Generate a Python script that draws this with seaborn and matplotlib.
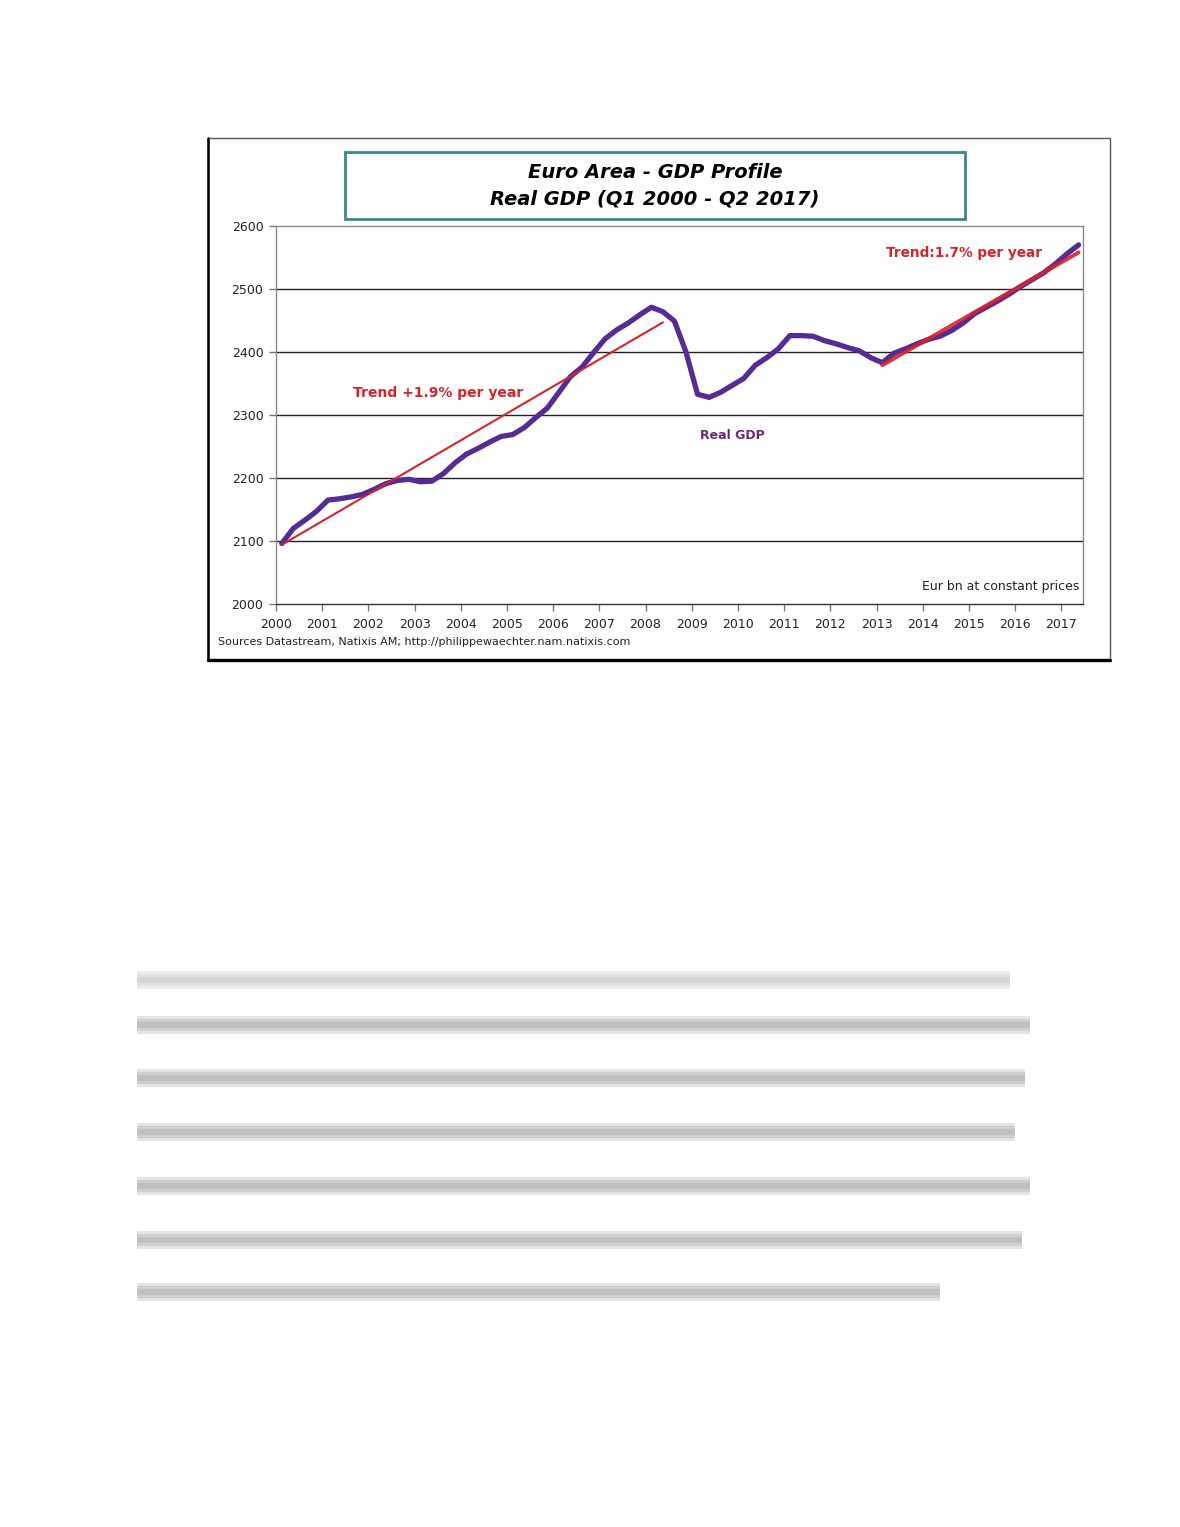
"""
Euro Area - GDP profile, real GDP Q1 2000 - Q2 2017, with two trend lines.
"""

import numpy as np
import pandas as pd
import seaborn as sns
import matplotlib.pyplot as plt
from matplotlib.patches import Rectangle

# quarterly real GDP, Eur bn at constant prices
quarters = pd.period_range("2000Q1", "2017Q2", freq="Q")
gdp = [
    2096, 2120, 2133, 2147,   # 2000
    2165, 2167, 2170, 2174,   # 2001
    2182, 2191, 2196, 2198,   # 2002
    2194, 2195, 2207, 2224,   # 2003
    2238, 2247, 2257, 2266,   # 2004
    2269, 2280, 2296, 2311,   # 2005
    2336, 2361, 2376, 2399,   # 2006
    2421, 2435, 2446, 2459,   # 2007
    2471, 2464, 2449, 2400,   # 2008
    2333, 2328, 2336, 2347,   # 2009
    2358, 2379, 2391, 2405,   # 2010
    2426, 2426, 2425, 2418,   # 2011
    2413, 2407, 2402, 2391,   # 2012
    2383, 2398, 2405, 2413,   # 2013
    2420, 2425, 2434, 2446,   # 2014
    2461, 2471, 2481, 2492,   # 2015
    2504, 2515, 2526, 2540,   # 2016
    2556, 2570,               # 2017
]

# trend lines: end points (decimal year, value)
trend1_x = [2000.125, 2008.375]
trend1_y = [2094, 2447]
trend2_x = [2013.125, 2017.375]
trend2_y = [2379, 2558]

year_ticks = list(range(2000, 2018))
value_ticks = [2000, 2100, 2200, 2300, 2400, 2500, 2600]

PURPLE = "#552b96"
RED = "#d8232a"


def main():
    sns.set_style("white")
    plt.rcParams["font.family"] = ["DejaVu Sans"]

    df = pd.DataFrame({
        "t": [q.year + (q.quarter - 0.5) / 4 for q in quarters],
        "gdp": gdp,
    })

    fig = plt.figure(figsize=(11.8, 15.27), dpi=100)
    ax = fig.add_axes([276 / 1180, 1 - 604 / 1527, 807 / 1180, 378 / 1527])

    # outer chart frame
    W, H = 1180, 1527
    fig.add_artist(Rectangle((208 / W, 1 - 660 / H), 902 / W, 522 / H,
                             transform=fig.transFigure, fill=False,
                             edgecolor="#555555", lw=1))
    fig.add_artist(plt.Line2D([208 / W, 208 / W], [1 - 660 / H, 1 - 138 / H],
                              color="black", lw=1.8))
    fig.add_artist(plt.Line2D([208 / W, 1110 / W], [1 - 660 / H, 1 - 660 / H],
                              color="black", lw=2.4))

    # title box
    fig.add_artist(Rectangle((345 / W, 1 - 219 / H), 620 / W, 67 / H,
                             transform=fig.transFigure, fill=False,
                             edgecolor="#3a8a86", lw=2))
    fig.text(655 / W, 1 - 172 / H, "Euro Area - GDP Profile", ha="center",
             va="center", fontsize=14, fontweight="bold", style="italic",
             color="black")
    fig.text(655 / W, 1 - 199 / H, "Real GDP (Q1 2000 - Q2 2017)", ha="center",
             va="center", fontsize=14, fontweight="bold", style="italic",
             color="black")

    for v in value_ticks[1:-1]:
        ax.axhline(v, color="#222222", lw=1, zorder=1)

    ax.plot(trend1_x, trend1_y, color=RED, lw=1.5, zorder=3)
    sns.lineplot(data=df, x="t", y="gdp", ax=ax, color=PURPLE, lw=3.8,
                 zorder=2)
    ax.plot(trend2_x, trend2_y, color=RED, lw=2.8, zorder=4, alpha=0.9)

    ax.set_xlim(2000, 2017.47)
    ax.set_ylim(2000, 2600)
    ax.set_xticks(year_ticks)
    ax.set_yticks(value_ticks)
    ax.set_xlabel("")
    ax.set_ylabel("")
    ax.tick_params(axis="both", labelsize=9, colors="#222222", length=5,
                   width=1, direction="out", bottom=True, left=True)
    ax.tick_params(axis="x", color="#777777", pad=5)
    ax.tick_params(axis="y", color="#777777", pad=4)
    for side in ["left", "bottom", "top", "right"]:
        ax.spines[side].set_visible(True)
        ax.spines[side].set_color("#8a8a8a")
        ax.spines[side].set_linewidth(1)
    ax.spines["bottom"].set_color("#333333")

    ax.text(2003.5, 2335, "Trend +1.9% per year", color=RED, fontsize=10,
            fontweight="bold", ha="center", va="center")
    ax.text(2014.9, 2557, "Trend:1.7% per year", color=RED, fontsize=9.8,
            fontweight="bold", ha="center", va="center")
    ax.text(2009.87, 2268, "Real GDP", color="#6a2a7c", fontsize=9,
            fontweight="bold", ha="center", va="center")
    ax.text(0.995, 0.045, "Eur bn at constant prices", color="#222222",
            fontsize=9, ha="right", va="center", transform=ax.transAxes)
    fig.text(218 / W, 1 - 642 / H,
             "Sources Datastream, Natixis AM; http://philippewaechter.nam.natixis.com",
             fontsize=8, color="#222222", ha="left", va="center")

    # blurred body text of the page below the chart
    rows = [(980, 1010, 0.45), (1025, 1030, 0.75), (1078, 1025, 0.75),
            (1132, 1015, 0.75), (1186, 1030, 0.75), (1240, 1022, 0.75),
            (1292, 940, 0.75)]
    for y, x_end, a in rows:
        for h in [18, 12, 6]:
            fig.add_artist(Rectangle((137 / W, 1 - (y + h / 2) / H),
                                     (x_end - 137) / W, h / H,
                                     transform=fig.transFigure,
                                     color="#8a8a8a", alpha=a * 0.3, lw=0))

    fig.savefig("out.png", dpi=100)
    plt.close(fig)


if __name__ == "__main__":
    main()
